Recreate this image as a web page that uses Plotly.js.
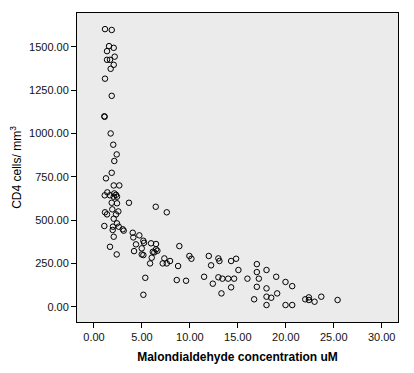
<!DOCTYPE html>
<html>
<head>
<meta charset="utf-8">
<script src="https://cdn.plot.ly/plotly-3.0.1.min.js"></script>
<style>html,body{margin:0;padding:0;background:#fff;}#chart{width:414px;height:373px;}</style>
</head>
<body>
<div id="chart"></div>
<script>
// Malondialdehyde concentration (uM)
const mda = [
  1.15, 1.85, 1.57, 2.06, 1.36, 2.16, 1.36, 1.67, 2.06, 1.74,
  1.15, 1.85, 1.08, 1.11, 1.74, 2.01, 2.37, 2.12, 1.85, 1.25,
  2.06, 2.64, 1.39, 1.12, 1.67, 2.12, 2.30, 2.06, 2.40, 1.85,
  2.40, 3.65, 6.44, 1.91, 1.15, 1.36, 2.54, 2.30, 2.06, 1.08,
  2.40, 1.98, 2.58, 1.95, 3.00, 3.10, 4.04, 4.73, 2.06, 4.10,
  7.59, 1.67, 2.37, 4.38, 4.18, 5.15, 5.22, 4.98, 4.98, 5.15,
  5.95, 6.47, 6.13, 6.47, 6.61, 6.02, 5.85, 5.35, 5.15, 7.34,
  7.17, 7.59, 7.93, 8.90, 8.63, 9.60, 8.77, 9.95, 10.16, 11.48,
  11.97, 12.21, 12.39, 12.97, 13.08, 12.97, 13.39, 13.29, 13.99, 14.30,
  14.82, 14.61, 14.30, 15.06, 16.00, 16.98, 16.98, 17.19, 17.99, 16.98,
  17.99, 16.70, 17.99, 18.48, 17.99, 19.00, 19.97, 20.67, 19.10, 19.97,
  20.67, 22.03, 22.41, 22.41, 23.00, 23.70, 25.40, 6.29
];
// CD4 cells / mm3
const cd4 = [
  1602, 1597, 1504, 1494, 1475, 1443, 1425, 1425, 1396, 1373,
  1316, 1217, 1099, 1096, 1000, 935, 879, 841, 773, 741,
  700, 700, 660, 643, 643, 654, 646, 635, 635, 600,
  597, 600, 577, 562, 545, 533, 550, 533, 508, 466,
  481, 462, 462, 443, 447, 439, 427, 412, 404, 400,
  545, 346, 302, 360, 321, 381, 369, 337, 302, 298,
  366, 362, 317, 331, 323, 283, 250, 167, 69, 279,
  250, 250, 264, 350, 154, 150, 235, 293, 277, 173,
  293, 239, 133, 279, 264, 170, 162, 77, 162, 264,
  277, 162, 112, 212, 162, 246, 200, 162, 212, 115,
  106, 43, 58, 52, 10, 173, 143, 119, 77, 10,
  10, 43, 54, 39, 29, 58, 39, 314
];
const xTicks = [0, 5, 10, 15, 20, 25, 30];
const yTicks = [0, 250, 500, 750, 1000, 1250, 1500];
const xLabels = ["0.00", "5.00", "10.00", "15.00", "20.00", "25.00", "30.00"];
const yLabels = ["0.00", "250.00", "500.00", "750.00", "1000.00", "1250.00", "1500.00"];

const trace = {
  x: mda, y: cd4, type: 'scatter', mode: 'markers',
  marker: {symbol: 'circle-open', size: 5.5, color: '#000', line: {width: 1, color: '#000'}},
  hoverinfo: 'none'
};
const fam = 'Liberation Sans, Arial, sans-serif';
const layout = {
  width: 414, height: 373,
  margin: {l: 77, r: 16, t: 13, b: 51, pad: 0},
  paper_bgcolor: '#fff', plot_bgcolor: '#ebebeb',
  showlegend: false,
  font: {family: fam, size: 11, color: '#000'},
  xaxis: {
    range: [-1.77, 31.7], tickvals: xTicks, ticktext: xLabels,
    ticks: 'outside', ticklen: 5, tickwidth: 1, tickcolor: '#000',
    showline: true, linecolor: '#000', linewidth: 1, mirror: true,
    showgrid: false, zeroline: false,
    tickfont: {family: fam, size: 11, color: '#111'},
    title: {text: '<b>Malondialdehyde concentration uM</b>', standoff: 10,
      font: {family: fam, size: 12, color: '#000'}}
  },
  yaxis: {
    range: [-88, 1695], tickvals: yTicks, ticktext: yLabels,
    ticks: 'outside', ticklen: 5, tickwidth: 1, tickcolor: '#000',
    showline: true, linecolor: '#000', linewidth: 1, mirror: true,
    showgrid: false, zeroline: false,
    tickfont: {family: fam, size: 11, color: '#111'},
    title: {text: 'CD4 cells/ mm<sup>3</sup>', standoff: 4,
      font: {family: fam, size: 12, color: '#000'}}
  }
};
Plotly.newPlot('chart', [trace], layout, {displayModeBar: false, staticPlot: true});
</script>
</body>
</html>
